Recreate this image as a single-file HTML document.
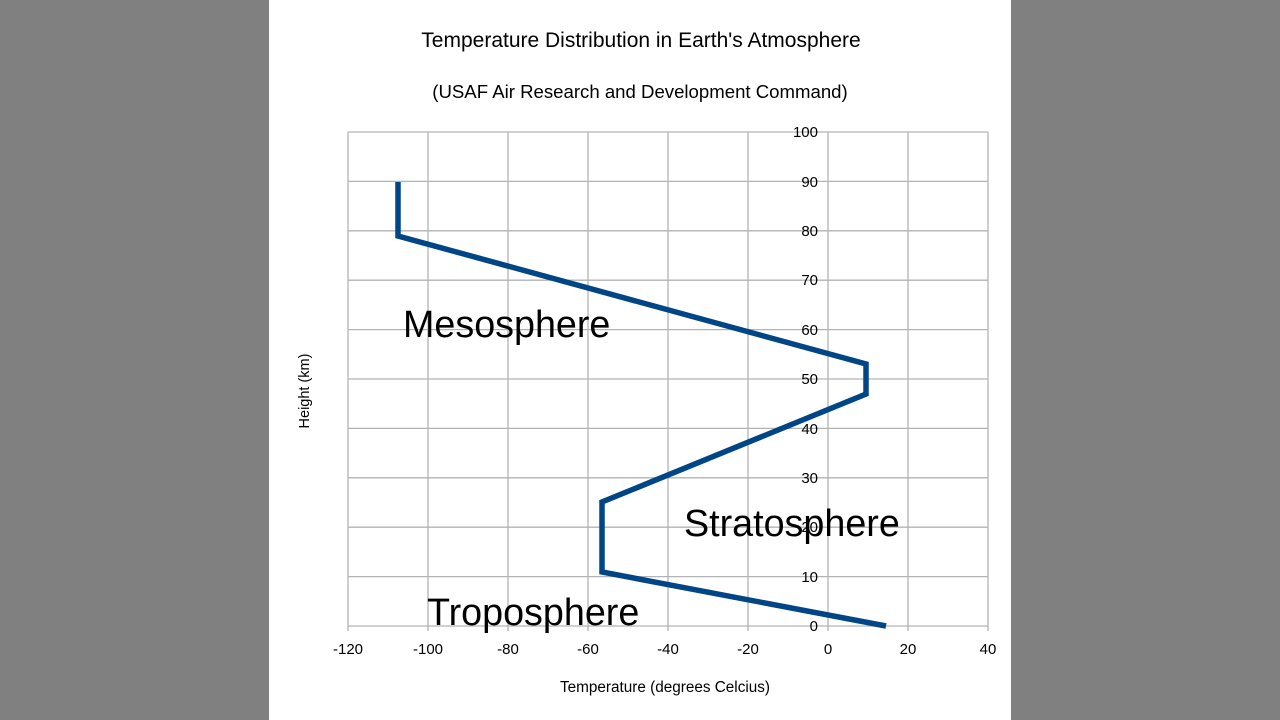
<!DOCTYPE html>
<html><head><meta charset="utf-8"><style>
html,body{margin:0;padding:0;background:#808080;}
svg{display:block;}
text{font-family:"Liberation Sans",sans-serif;fill:#000;}
</style></head><body>
<svg width="1280" height="720" xmlns="http://www.w3.org/2000/svg">
<rect x="0" y="0" width="1280" height="720" fill="#808080"/>
<rect x="269" y="0" width="742" height="720" fill="#fff"/>
<text x="641" y="47" font-size="21" text-anchor="middle">Temperature Distribution in Earth's Atmosphere</text>
<text x="640" y="98" font-size="18.6" text-anchor="middle">(USAF Air Research and Development Command)</text>
<g stroke="#b3b3b3" stroke-width="1.3">
<line x1="348" y1="132" x2="348" y2="631"/><line x1="428" y1="132" x2="428" y2="631"/>
<line x1="508" y1="132" x2="508" y2="631"/><line x1="588" y1="132" x2="588" y2="631"/>
<line x1="668" y1="132" x2="668" y2="631"/><line x1="748" y1="132" x2="748" y2="631"/>
<line x1="828" y1="132" x2="828" y2="631"/><line x1="908" y1="132" x2="908" y2="631"/>
<line x1="988" y1="132" x2="988" y2="631"/>
<line x1="348" y1="132" x2="988" y2="132"/><line x1="348" y1="181.4" x2="988" y2="181.4"/>
<line x1="348" y1="230.8" x2="988" y2="230.8"/><line x1="348" y1="280.2" x2="988" y2="280.2"/>
<line x1="348" y1="329.6" x2="988" y2="329.6"/><line x1="348" y1="379" x2="988" y2="379"/>
<line x1="348" y1="428.4" x2="988" y2="428.4"/><line x1="348" y1="477.8" x2="988" y2="477.8"/>
<line x1="348" y1="527.2" x2="988" y2="527.2"/><line x1="348" y1="576.6" x2="988" y2="576.6"/>
<line x1="348" y1="626" x2="988" y2="626"/>
</g>
<g font-size="15" text-anchor="middle">
<text x="348" y="654">-120</text><text x="428" y="654">-100</text><text x="508" y="654">-80</text>
<text x="588" y="654">-60</text><text x="668" y="654">-40</text><text x="748" y="654">-20</text>
<text x="828" y="654">0</text><text x="908" y="654">20</text><text x="988" y="654">40</text>
</g>
<g font-size="15" text-anchor="end">
<text x="818" y="137">100</text><text x="818" y="187">90</text><text x="818" y="236">80</text>
<text x="818" y="285">70</text><text x="818" y="335">60</text><text x="818" y="384">50</text>
<text x="818" y="434">40</text><text x="818" y="483">30</text><text x="818" y="532">20</text>
<text x="818" y="582">10</text><text x="818" y="631">0</text>
</g>
<text x="665" y="692" font-size="15.3" text-anchor="middle">Temperature (degrees Celcius)</text>
<text x="309" y="391" font-size="14.5" text-anchor="middle" transform="rotate(-90 309 391)">Height (km)</text>
<polyline points="886,626 602,572 602,502 866,394 866,364 398,236 398,182" fill="none" stroke="#004586" stroke-width="5.5" stroke-linejoin="miter"/>
<text x="403" y="337" font-size="37.7">Mesosphere</text>
<text x="684" y="536" font-size="37.7">Stratosphere</text>
<text x="427" y="625" font-size="37.7">Troposphere</text>
</svg>
</body></html>
